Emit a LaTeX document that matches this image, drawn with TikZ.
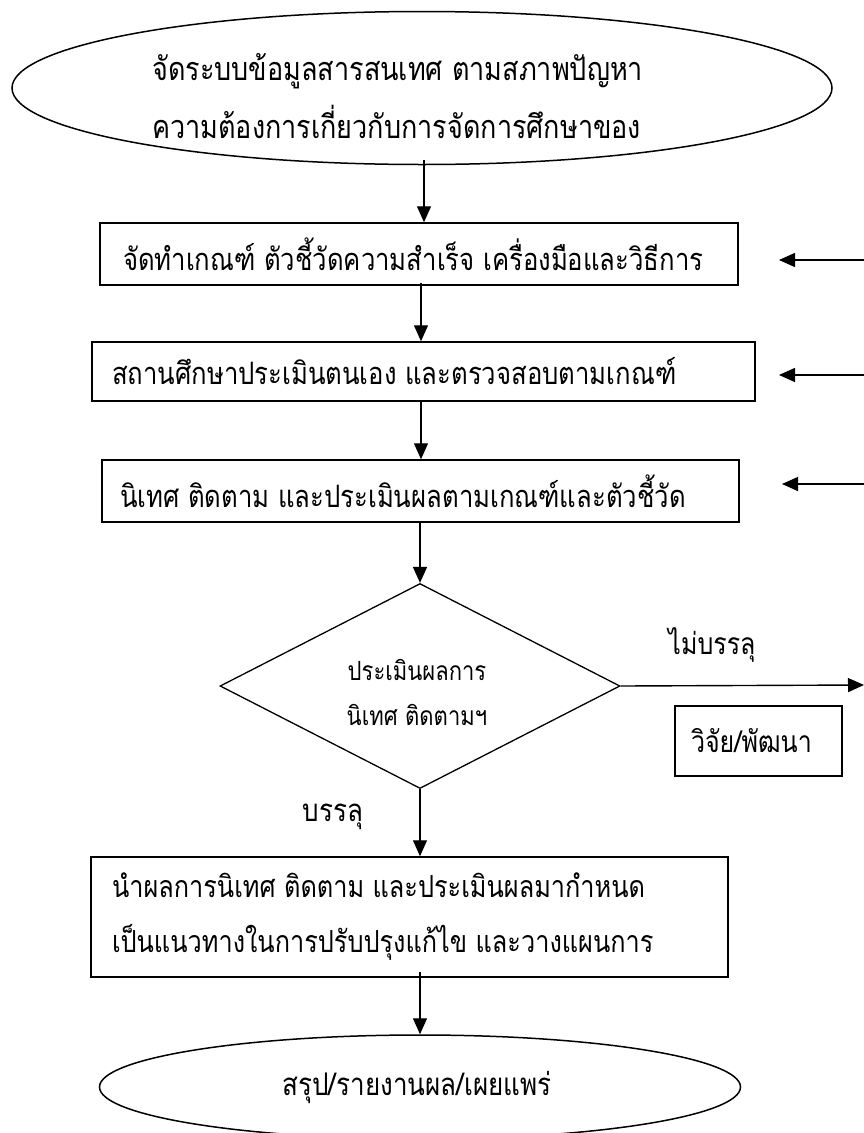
\documentclass[tikz,border=0pt]{standalone}
\usepackage{graphicx}
\usepackage{fontspec}
\setmainfont[Script=Thai]{Loma}
\usetikzlibrary{arrows.meta,shapes.geometric}
\newcommand{\vtxt}[1]{\scalebox{1}[1.2]{#1}}
\tikzset{
  arr/.style={line width=1.4pt,-{Triangle[length=16pt,width=14pt]}},
  boxnode/.style={draw,line width=1.5pt,rectangle,inner ysep=0pt,align=left,font=\fontsize{25.7}{55}\selectfont},
  ell/.style={draw,line width=1.5pt,ellipse,inner sep=0pt},
  txt/.style={inner sep=0pt,align=left,font=\fontsize{25}{58}\selectfont},
}
\begin{document}
\begin{tikzpicture}[x=1pt,y=-1pt]
\useasboundingbox[fill=white] (0,0) rectangle (864,1133);
% top ellipse
\node[ell,minimum width=820pt,minimum height=153pt] (e1) at (422,88) {};
\node[txt,anchor=west,font=\fontsize{27}{58}\selectfont] (e1t) at (152,96) {\vtxt{จัดระบบข้อมูลสารสนเทศ ตามสภาพปัญหา}\\\vtxt{ความต้องการเกี่ยวกับการจัดการศึกษาของ}};
% boxes
\node[boxnode,minimum width=638pt,minimum height=62pt,inner xsep=23pt,text width=592pt] (b1) at (419,254) {\vtxt{จัดทำเกณฑ์ ตัวชี้วัดความสำเร็จ เครื่องมือและวิธีการ}};
\node[boxnode,minimum width=663pt,minimum height=59pt,inner xsep=20pt,text width=623pt] (b2) at (423.5,371.5) {\vtxt{สถานศึกษาประเมินตนเอง และตรวจสอบตามเกณฑ์}};
\node[boxnode,minimum width=637pt,minimum height=62pt,inner xsep=18pt,text width=601pt] (b3) at (420.5,491) {\vtxt{นิเทศ ติดตาม และประเมินผลตามเกณฑ์และตัวชี้วัด}};
% diamond
\node[draw,line width=1.3pt,diamond,inner sep=0pt,minimum width=400pt,minimum height=205pt] (d) at (420,686) {};
\node[txt,align=center,font=\fontsize{22}{45}\selectfont] (dt) at (417,692) {\vtxt{ประเมินผลการ}\\\vtxt{นิเทศ ติดตามฯ}};
% research box
\node[boxnode,minimum width=167pt,minimum height=70pt,inner xsep=16pt,text width=135pt,font=\fontsize{25}{45}\selectfont] (r) at (758.5,741) {\vtxt{วิจัย/พัฒนา}};
% labels
\node[txt,font=\fontsize{25}{45}\selectfont] (lno) at (712,645) {\vtxt{ไม่บรรลุ}};
\node[txt,font=\fontsize{26}{45}\selectfont] (lyes) at (333,817) {\vtxt{บรรลุ}};
% box 4
\node[boxnode,minimum width=637pt,minimum height=120pt,inner xsep=21pt,text width=595pt,font=\fontsize{25.3}{55}\selectfont] (b4) at (409.5,917) {\vtxt{นำผลการนิเทศ ติดตาม และประเมินผลมากำหนด}\\\vtxt{เป็นแนวทางในการปรับปรุงแก้ไข และวางแผนการ}};
% bottom ellipse
\node[ell,minimum width=641pt,minimum height=104pt] (e2) at (420,1087) {};
\node[txt,font=\fontsize{26}{45}\selectfont] (e2t) at (417,1087) {\vtxt{สรุป/รายงานผล/เผยแพร่}};
% coordinates for free ends
\coordinate (in1s) at (864,260); \coordinate (in1e) at (779,260);
\coordinate (in2s) at (864,375); \coordinate (in2e) at (779,375);
\coordinate (in3s) at (864,484); \coordinate (in3e) at (782,484);
\coordinate (out) at (864,685);
% connectors
\draw[arr] ([xshift=2pt,yshift=5pt]e1.south) -- ([xshift=2pt]e1.south |- b1.north);
\draw[arr] ([xshift=2pt,yshift=3pt]b1.south) -- ([xshift=2pt]b1.south |- b2.north);
\draw[arr] ([xshift=-2.5pt,yshift=1pt]b2.south) -- ([xshift=-2.5pt]b2.south |- b3.north);
\draw[arr] ([xshift=-0.5pt]b3.south) -- (d.north);
\draw[arr] (d.south) -- (d.south |- b4.north);
\draw[arr] ([xshift=10.5pt,yshift=6pt]b4.south) -- ([xshift=10.5pt]b4.south |- e2.north);
\draw[arr] (d.east) -- (out);
\draw[arr] (in1s) -- (in1e);
\draw[arr] (in2s) -- (in2e);
\draw[arr] (in3s) -- (in3e);
\end{tikzpicture}
\end{document}
